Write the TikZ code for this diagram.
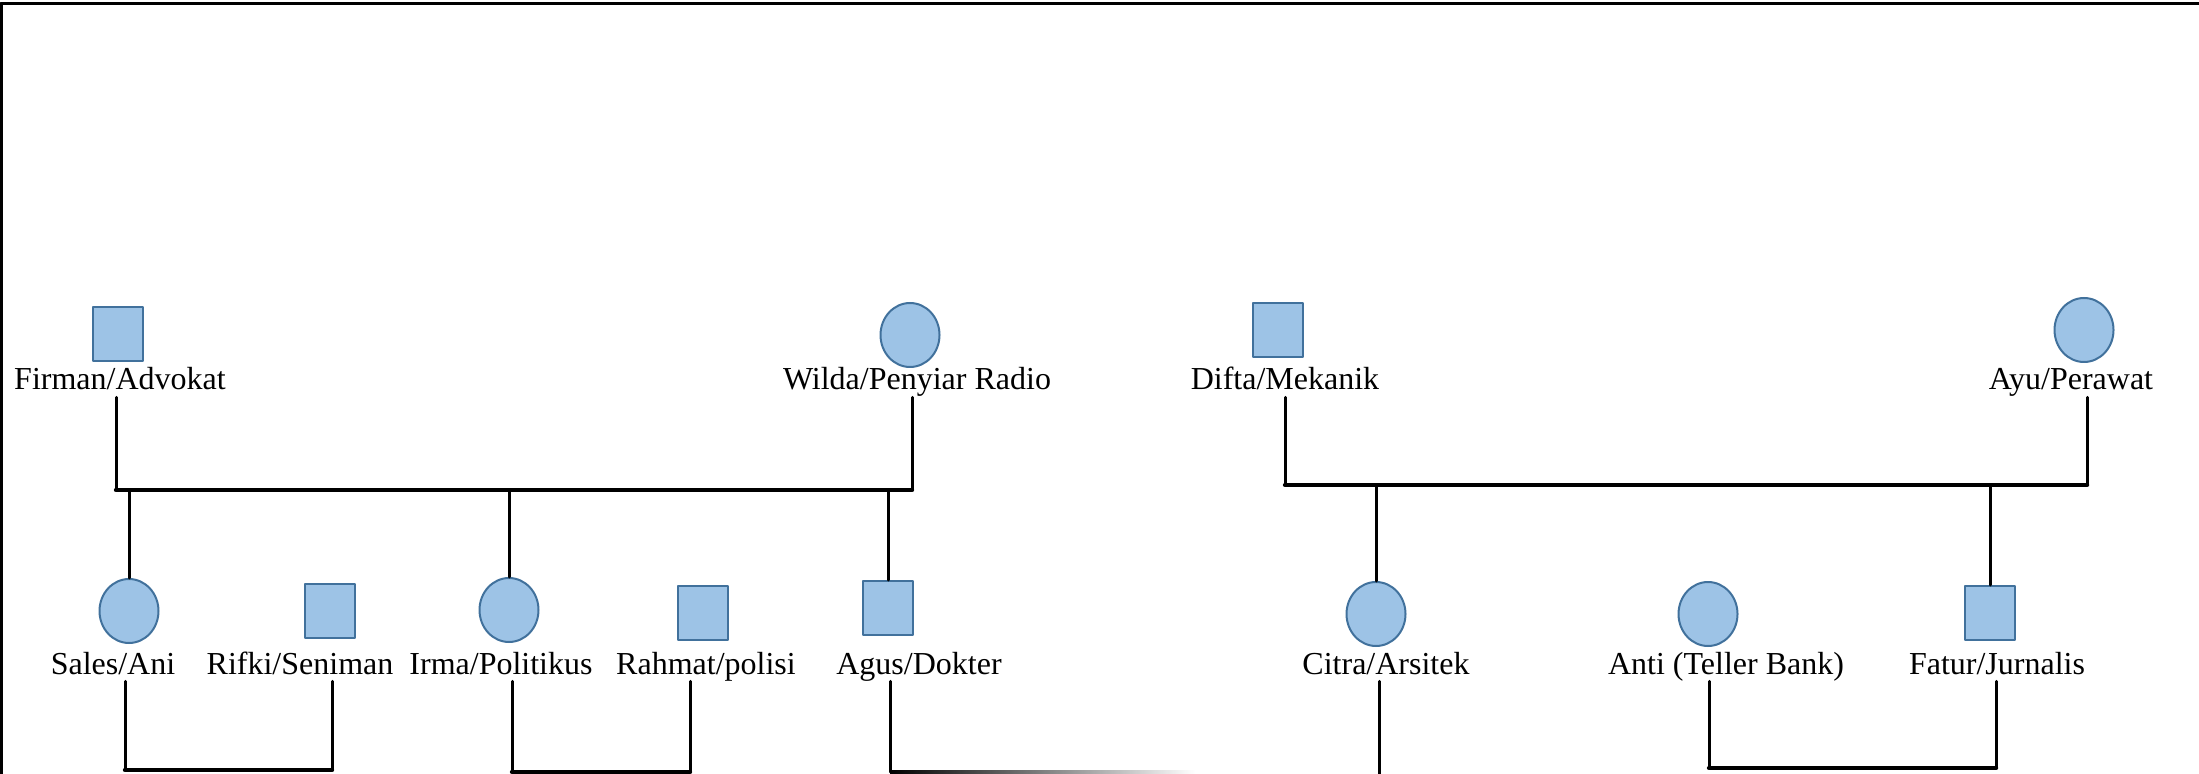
\documentclass[tikz,border=0pt]{standalone}
\usepackage{fontspec}
\setmainfont{Liberation Serif}
\usepackage{tikz}
\usetikzlibrary{shapes.geometric}
\definecolor{aaccee}{rgb}{0.616,0.765,0.902}
\definecolor{qqwwzz}{rgb}{0.255,0.443,0.612}
\begin{document}
\begin{tikzpicture}[line cap=round,line join=round,x=0.5pt,y=-0.5pt,
male/.style={rectangle,draw=qqwwzz,fill=aaccee,line width=1pt,inner sep=0pt,minimum width=25pt,minimum height=27pt},
female/.style={ellipse,draw=qqwwzz,fill=aaccee,line width=1pt,inner sep=0pt,minimum width=29.5pt,minimum height=32pt},
lbl/.style={inner sep=0pt,anchor=base,text depth=0.35em,font=\fontsize{16}{19}\selectfont},
rel/.style={line width=1.5pt},
bar/.style={line width=2.2pt}]
\useasboundingbox (0,0) rectangle (2199,774);
\draw[line width=1.5pt,line cap=rect] (1,774) -- (1,4) -- (2199,4);
\node[male] (firman) at (118,334) {};
\node[lbl] (firmanlbl) at (120,390) {Firman/Advokat};
\node[female] (wilda) at (910,335) {};
\node[lbl] (wildalbl) at (917,390) {Wilda/Penyiar Radio};
\node[male] (difta) at (1278,330) {};
\node[lbl] (diftalbl) at (1285,390) {Difta/Mekanik};
\node[female] (ayu) at (2084,330) {};
\node[lbl] (ayulbl) at (2071,390) {Ayu/Perawat};
\node[female] (sales) at (129,611) {};
\node[lbl] (saleslbl) at (113,674) {Sales/Ani};
\node[male] (rifki) at (330,611) {};
\node[lbl] (rifkilbl) at (300,674) {Rifki/Seniman};
\node[female] (irma) at (509,610) {};
\node[lbl] (irmalbl) at (501,674) {Irma/Politikus};
\node[male] (rahmat) at (703,613) {};
\node[lbl] (rahmatlbl) at (706,674) {Rahmat/polisi};
\node[male] (agus) at (888,608) {};
\node[lbl] (aguslbl) at (919,674) {Agus/Dokter};
\node[female] (citra) at (1376,614) {};
\node[lbl] (citralbl) at (1386,674) {Citra/Arsitek};
\node[female] (anti) at (1708,614) {};
\node[lbl] (antilbl) at (1726,674) {Anti (Teller Bank)};
\node[male] (fatur) at (1990,613) {};
\node[lbl] (faturlbl) at (1997,674) {Fatur/Jurnalis};
\coordinate (f1a) at (116,490);
\coordinate (f1b) at (912,490);
\draw[rel] (firmanlbl.south -| f1a) -- (f1a);
\draw[rel] (wildalbl.south -| f1b) -- (f1b);
\draw[bar] (f1a) -- (f1b);
\draw[rel] (sales.north) -- (sales.north |- f1a);
\draw[rel] (irma.north) -- (irma.north |- f1a);
\draw[rel] (agus.north) -- (agus.north |- f1a);
\coordinate (f2a) at (1285,485);
\coordinate (f2b) at (2087,485);
\draw[rel] (diftalbl.south -| f2a) -- (f2a);
\draw[rel] (ayulbl.south -| f2b) -- (f2b);
\draw[bar] (f2a) -- (f2b);
\draw[rel] (citra.north) -- (citra.north |- f2a);
\draw[rel] (fatur.north) -- (fatur.north |- f2a);
\coordinate (c1a) at (125,770);
\coordinate (c1b) at (332,770);
\draw[rel] (saleslbl.south -| c1a) -- (c1a);
\draw[rel] (rifkilbl.south -| c1b) -- (c1b);
\draw[bar] (c1a) -- (c1b);
\coordinate (c2a) at (512,772);
\coordinate (c2b) at (690,772);
\draw[rel] (irmalbl.south -| c2a) -- (c2a);
\draw[rel] (rahmatlbl.south -| c2b) -- (c2b);
\draw[bar] (c2a) -- (c2b);
\coordinate (c3a) at (890,772);
\coordinate (c3b) at (1195,774);
\draw[rel] (aguslbl.south -| c3a) -- (c3a);
\shade[left color=black,middle color=black!65,right color=white] (890,770) rectangle (c3b);
\coordinate (c4) at (1379,774);
\draw[rel] (citralbl.south -| c4) -- (c4);
\coordinate (c5a) at (1709,768);
\coordinate (c5b) at (1996,768);
\draw[rel] (antilbl.south -| c5a) -- (c5a);
\draw[rel] (faturlbl.south -| c5b) -- (c5b);
\draw[bar] (c5a) -- (c5b);
\end{tikzpicture}
\end{document}
